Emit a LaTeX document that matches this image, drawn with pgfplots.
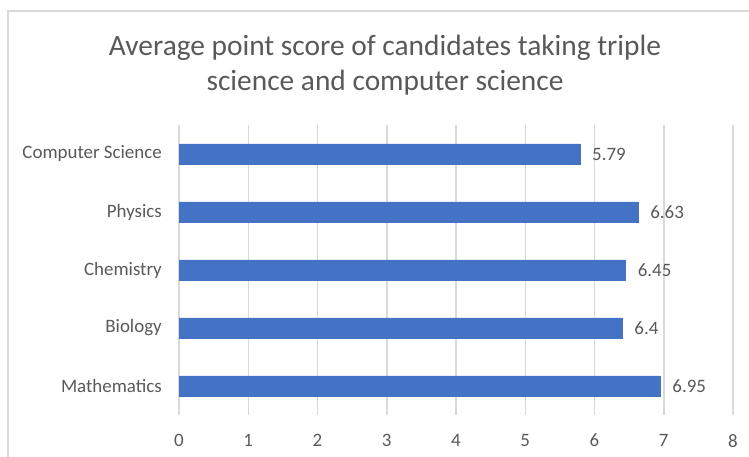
\documentclass[border=0pt]{standalone}
\usepackage{fontspec}
\setmainfont{Carlito}
\usepackage{pgfplots}
\pgfplotsset{compat=1.18}
\definecolor{barblue}{HTML}{4472C4}
\definecolor{txtgray}{HTML}{595959}
\definecolor{gridgray}{HTML}{D9D9D9}
\begin{document}
\begin{tikzpicture}[x=1bp,y=1bp]
\path[use as bounding box] (0,0) rectangle (749,457);
\draw[gridgray, line width=1.5bp] (8,-2) -- (8,446) -- (751,446);
\node[txtgray, font=\fontsize{29.5}{35}\selectfont, align=center, inner sep=0pt] at (385,391.5) {Average point score of candidates taking triple\\science and computer science};
\begin{axis}[at={(179bp,42bp)}, anchor=south west, scale only axis, width=554bp, height=290bp,
  xbar, bar width=20bp, xmin=0, xmax=8, ymin=-0.5, ymax=4.5,
  ytick={0,1,2,3,4}, yticklabels={Mathematics,Biology,Chemistry,Physics,Computer Science},
  xtick={0,1,...,8}, xmajorgrids, grid style={gridgray, line width=1.5bp},
  axis line style={draw=none}, major tick length=0pt,
  /pgf/number format/assume math mode=true,
  tick label style={txtgray, font=\fontsize{19}{23}\selectfont},
  yticklabel style={inner sep=0pt, xshift=-17bp},
  xticklabel style={inner sep=0pt, yshift=-19bp},
  nodes near coords,
  every node near coord/.append style={txtgray, font=\fontsize{19}{23}\selectfont, anchor=west, inner sep=0pt, xshift=12bp},
  clip=false]
\addplot[fill=barblue, draw=barblue] coordinates {(6.95,0) (6.4,1) (6.45,2) (6.63,3) (5.79,4)};
\end{axis}
\end{tikzpicture}
\end{document}
